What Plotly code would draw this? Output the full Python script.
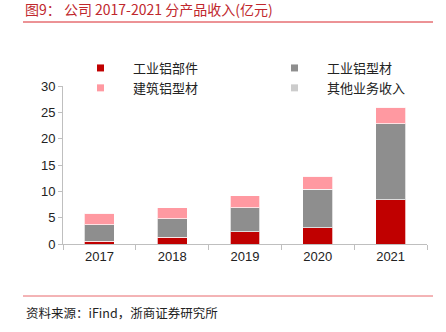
import plotly.graph_objects as go

years = ["2017", "2018", "2019", "2020", "2021"]
parts = [0.5, 1.33, 2.3, 3.1, 8.4]          # 工业铝部件
profiles = [3.2, 3.47, 4.6, 7.3, 14.4]      # 工业铝型材
building = [2.1, 2.1, 2.3, 2.45, 3.2]       # 建筑铝型材
other = [0.0, 0.0, 0.0, 0.0, 0.0]           # 其他业务收入

names = ["工业铝部件", "工业铝型材", "建筑铝型材", "其他业务收入"]
colors = ["#c00000", "#8e8e8e", "#ff99a1", "#cccccc"]
series = [parts, profiles, building, other]
legend_ids = ["legend", "legend2", "legend", "legend2"]

W, H = 446, 332
ml, mr, mt, mb = 63, 19, 86, 88
pw, ph = W - ml - mr, H - mt - mb

fig = go.Figure()
for nm, col, vals in zip(names, colors, series):
    fig.add_trace(go.Bar(
        x=years, y=vals, name=nm, showlegend=False,
        marker=dict(color=col, line=dict(color="rgba(255,255,255,0.7)", width=1)),
        width=0.41,
    ))
for nm, col, lg in zip(names, colors, legend_ids):
    fig.add_trace(go.Scatter(
        x=[None], y=[None], mode="markers", name=nm, legend=lg,
        marker=dict(symbol="square", size=7, color=col),
    ))

leg_common = dict(
    orientation="v", xanchor="left", yanchor="top", itemwidth=55,
    traceorder="normal", tracegroupgap=0, bgcolor="rgba(0,0,0,0)",
    font=dict(family="Noto Sans CJK SC", size=13, color="#222"),
)

fig.update_layout(
    width=W, height=H,
    margin=dict(l=ml, r=mr, t=mt, b=mb),
    barmode="stack",
    plot_bgcolor="white", paper_bgcolor="white",
    font=dict(family="Liberation Sans, Arial", size=13, color="#222"),
    legend=dict(x=(68 - ml) / pw, y=(244 - 53) / ph, **leg_common),
    legend2=dict(x=(262 - ml) / pw, y=(244 - 53) / ph, **leg_common),
    xaxis=dict(
        type="category", tickson="boundaries", showline=True,
        linecolor="#bfbfbf", linewidth=1, ticks="outside", ticklen=5,
        tickcolor="#bfbfbf", showgrid=False, zeroline=False,
        tickfont=dict(size=13),
    ),
    yaxis=dict(
        range=[0, 30], dtick=5, showline=True, linecolor="#bfbfbf",
        linewidth=1, ticks="outside", ticklen=4, tickcolor="#bfbfbf",
        showgrid=False, zeroline=False, tickfont=dict(size=13),
    ),
)

# title and lines
fig.add_annotation(
    xref="paper", yref="paper", x=(23 - ml) / pw, y=(244 - 9) / ph,
    xanchor="left", yanchor="middle", showarrow=False,
    text="图9： 公司 2017-2021 分产品收入(亿元)",
    font=dict(family="Noto Sans CJK SC", size=14, color="#c0272d"),
)
fig.add_shape(type="line", xref="paper", yref="paper",
              x0=(23 - ml) / pw, x1=(433 - ml) / pw,
              y0=(244 - 22) / ph, y1=(244 - 22) / ph,
              line=dict(color="#d9262c", width=1))
fig.add_shape(type="line", xref="paper", yref="paper",
              x0=(23 - ml) / pw, x1=(433 - ml) / pw,
              y0=(244 - 296) / ph, y1=(244 - 296) / ph,
              line=dict(color="#e8686c", width=1))
fig.add_annotation(
    xref="paper", yref="paper", x=(24 - ml) / pw, y=(244 - 312) / ph,
    xanchor="left", yanchor="middle", showarrow=False,
    text="资料来源：iFind，浙商证券研究所",
    font=dict(family="Noto Sans CJK SC", size=12.5, color="#222"),
)

fig.write_html("out.html")
